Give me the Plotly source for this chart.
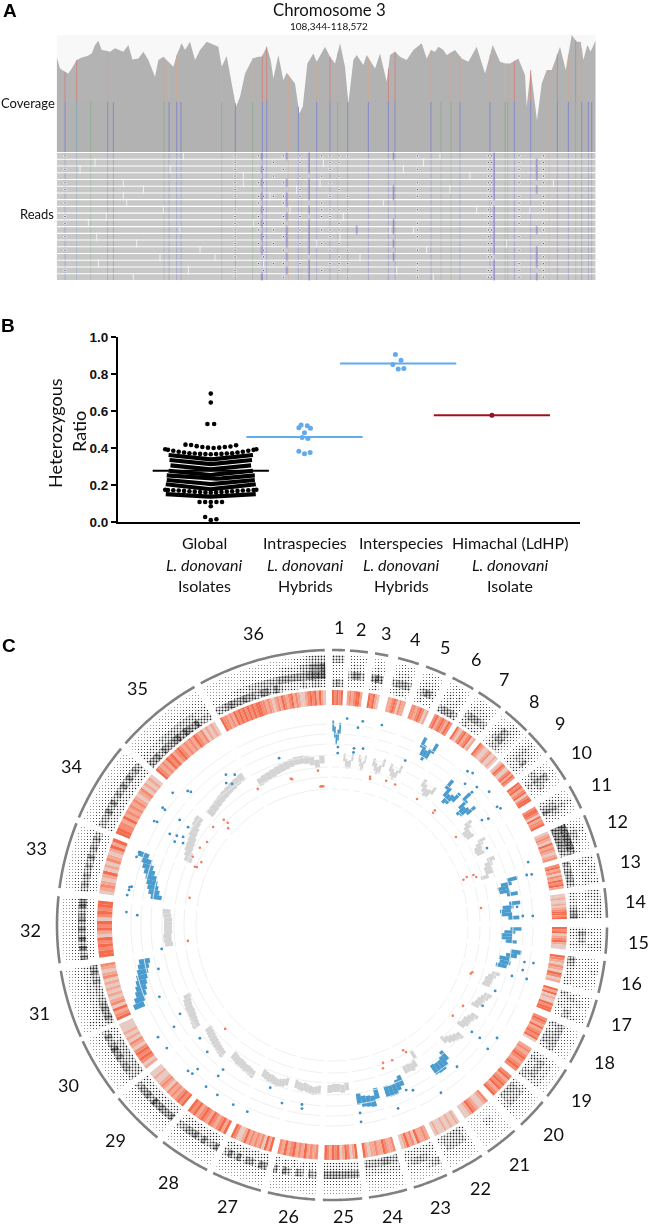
import numpy as np
import plotly.graph_objects as go

W, H = 650, 1230
UI = "Lato"

# ---------- Panel A values ----------
COV_BIN = [0,10,25,35,45,60,75,92,105,115,125,135,148,160,175,185,200,215,227,245,260,275,295,305,320,335,350,360,375,385,400,415,430,450,470,485,495,510,525,538,550,565,588,605,615,630,642,650,665,680,690,715,728,738,752,770,780,805,820,835,850,865,875,890,900,920,930,955,970,990,1000,1015,1030,1050,1070,1095,1110,1123,1135,1145,1160,1170,1195,1215,1235,1260,1285,1308,1330,1345,1360,1385,1405,1410,1422,1441,1455,1470,1485,1510,1527,1545,1560,1572,1580,1592,1602,1617]
COV_DEPTH = [285,250,240,235,250,275,283,287,295,320,333,305,303,300,310,305,300,320,277,280,300,275,225,275,285,270,255,290,325,305,330,275,305,330,320,315,255,287,205,135,165,235,280,285,285,315,275,220,290,215,237,205,115,135,265,295,270,315,285,265,325,255,145,275,290,260,290,250,295,210,290,300,285,275,305,325,280,305,300,315,305,290,305,280,270,315,235,320,270,265,265,280,230,135,245,95,205,245,245,315,245,350,330,330,275,320,300,335]
SNP_BIN = [25,60,102,153,170,322,337,360,373,495,536,588,617,630,695,725,735,780,820,843,873,935,995,1015,1123,1153,1183,1210,1300,1345,1353,1373,1422,1477,1502,1535,1557,1575,1595,1605]
SNP_LOW = list("btgbbgbbbgbgbbobobbgbbbbbggbbggbbobbgbbb")
SNP_HIGH = list("rrnonoponpoprrooporonorronoooporrororonn"[:40])
SNP_COLOR = {"b": "#7478CF", "t": "#6FA6B5", "g": "#82AE82", "r": "#D9756E", "o": "#D6A58B", "p": "#C9B3A8", "n": "#B4B4B4"}
READ_ROWS = list(range(1, 20))
BLACK_MARKS = {
    25:   "#.#.##.#.##.#.#..#.",
    535:  "#######.########.##",
    605:  "#...#.##.###.#..#..",
    620:  "..#.#.#.#.#.#.##.#.",
    650:  ".#.#..#....#.#..#..",
    680:  "#.#.#.##.##.#.#.#.#",
    730:  "##.#.##..#.#.#..#..",
    795:  "#..#...###.#.#...#.",
    820:  "###.#.#.##.##.#.#..",
    847:  "##.#.#..#.##.#.###.",
    873:  "#.....#.#.....#.#.#",
    1082: "#.#.###.#.###.#.###",
    1295: "#######.########.##",
    1305: "#####.##.#.#.#.#.##",
    1387: "#####.#####.#.#.###",
    1460: "#####.###.##.#.####",
}
PURPLE_MARKS = {
    615:  "#.#.#.#.#.#.#.#...#",
    690:  "#...#.##.#.###.#.#.",
    757:  "###.###.#.#####.###",
    900:  "...........#.......",
    1010: "#....##...##.#.#...",
    1312: "#######.#######.###",
    1440: ".###.#.....#..###.#",
}
BREAK_ROW = [1,1,2,2,3,3,3,4,4,5,5,5,6,6,6,7,7,8,8,9,9,9,10,10,11,11,12,12,13,13,14,14,14,15,15,16,16,17,17,18,18,19,19,2,5,9,12,16]
BREAK_BIN = [380,1150,115,1100,70,340,1040,560,1240,200,790,1490,260,720,1180,200,640,210,980,320,700,1260,150,860,95,590,370,1070,120,850,240,780,1350,430,1110,310,910,125,620,395,1020,230,1130,800,560,1420,1000,475]

# ---------- Panel B values ----------
GROUP_LABELS = [["Global", "L. donovani", "Isolates"], ["Intraspecies", "L. donovani", "Hybrids"],
                ["Interspecies", "L. donovani", "Hybrids"], ["Himachal (LdHP)", "L. donovani", "Isolate"]]
GROUP_MEANS = [0.277, 0.46, 0.857, 0.577]
MEAN_COLORS = ["#000000", "#62AAEC", "#62AAEC", "#A01020"]
INTRA_OFF = [-.06,-.036,.03,.064,0,-.025,.036,-.06,0,.06]
INTRA_Y = [.51,.524,.52,.507,.482,.457,.452,.383,.369,.376]
INTER_OFF = [-.03,.03,-.057,0,.06]
INTER_Y = [.905,.874,.852,.827,.83]
HIM_Y = [.577]
GLOBAL_OUT_OFF = [0,0,-.036,.036,-.27,-.21,-.15,-.09,-.03,.03,.09,.15,.21,.27,-.12,-.06,0,.06,.12,0,-.06,0,.06]
GLOBAL_OUT_Y = [.694,.646,.53,.53,.418,.416,.41,.405,.402,.40,.402,.405,.408,.415,.108,.108,.108,.108,.108,.085,.027,.010,.015]
ROW_OFF_SCALE = [0,.125,.25,.375,.5,.625,.75,.875,1]
SOLID_ROW_HALF = [.45,.44,.43,.45,.47,.47,.48,.48]
SOLID_ROWS = [
    [.339,.341,.344,.347,.350,.353,.356,.359,.362],
    [.313,.316,.318,.321,.324,.327,.329,.332,.335],
    [.285,.288,.290,.293,.295,.298,.300,.303,.306],
    [.254,.257,.260,.263,.265,.268,.271,.274,.277],
    [.231,.234,.236,.239,.241,.244,.247,.250,.252],
    [.205,.208,.211,.213,.216,.219,.222,.225,.227],
    [.177,.180,.184,.187,.191,.194,.197,.201,.204],
    [.137,.139,.141,.143,.144,.146,.148,.150,.151],
]
DOT_ROW_OFF = [0,.057,.114,.171,.228,.285,.342,.40,.457,.486]
DOT_ROW_A = [.366,.367,.368,.370,.372,.376,.380,.385,.390,.393]
DOT_ROW_B = [.158,.160,.162,.164,.166,.168,.170,.172,.173,.174]

# ---------- Panel C values ----------
CHROM = [str(i) for i in range(1, 37)]
LABEL_R = [298,297,297,298,300,302,300,301,304,304,304,304,305,304,307,305,306,305,305,305,304,302,302,297,291,294,300,305,305,308,306,302,305,305,306,302]
CH_START = [0,3.75,9,13.9,20,26,32.2,39.1,45.7,52.5,59.7,66.5,74.9,82.3,90.5,97.5,105.8,113.5,121.7,130,138.4,147,155.3,164.2,173.7,183.5,195,207,219.4,232.3,246,262,277.7,293,311.3,331.5]
CH_END = [2.7,7.5,11.8,18.4,24.4,30.9,37.8,45,51.2,58.1,64.9,73.6,81,88.5,96,104.3,111.8,120,128.5,136.6,145.5,154,162.7,172.3,181.9,193.5,205.6,217.9,230.9,245,260.4,276,291.7,309.9,330,358.5]
# SNP density, outer row to inner row, digits 0-9
DENSITY = [
 ["454","222","222","464"],["2222","2332","4774","2222"],["121","232","686","231"],["12221","23332","46665","23332"],
 ["12221","23332","35763","23222"],["12221","23232","23332","56664"],["122221","233332","466654","343332"],["112332","236532","246632","134431"],
 ["123221","234332","234462","233331"],["112211","236521","456542","234321"],["11321","23432","35642","35732"],["1232211","2354322","8888886","7777765"],
 ["323323","332333","222222","656665"],["333333","332332","222233","333467"],["222332","232232","364532","333232"],["223221","222222","222222","653333"],
 ["222122","233223","343354","433322"],["112111","222222","555554","434553"],["111111","233333","355553","343344"],["111111","222222","344443","355542"],
 ["1111111","1112111","1133111","1111111"],["1111111","2222222","2444442","3444443"],["1111111","5432222","2345543","3333333"],["11111111","22222222","33333333","55665555"],
 ["11111111","22222222","66666666","33333333"],["1111111111","2222212222","5615625726","2323232323"],["1111111111","2222222222","6736637474","3333333333"],["1111111111","1222222222","7547476654","2333333332"],
 ["11111111111","22222222222","76676857665","33333333333"],["111111111111","222222222222","446657686574","444444444333"],["1111111111111","2322222222222","3333333333333","5767654446576"],["1111111111111","2222222222222","7585857576587","2222222222222"],
 ["1111111111111","2222222222222","4656464746564","2222222222222"],["111111111111111","222222222222222","555757465757565","333333333333333"],["11111111111111111","22222222222222222","33333444444444333","66757667868768554"],
 ["111111111111111111223444","111111122222222333345778","222223334445556666667888","556766766577474333343443"],
]
DENSITY_LEVEL = [0,.06,.12,.19,.27,.37,.47,.59,.71,.85]
# Variant-density stripes per chromosome, digits 0 (pale) to 3 (deep)
STRIPES = ["32323","1212331","32310","112320211","22123201","231232132","3102312301","32100120010","01320023132","3231230233","2332031223","012103121012","23120213231","0010010123323",
 "3230123100","32102103201","31301003233","23213123230","1212321232","2312323123","2100123100","0100100100010","12113021310","2112311211013","3102310323123","21213121321312","3130212121310023","313212312321323",
 "32321212012100100","10232320120101000","3213021010101021012","33232301323023233","01210130102101313","332213121212101201010","32121323123212121321201010","3221213232323232332212101213212312100123231310"]
# Inner-track median per chromosome (radial track units), clockwise across the chromosome
TRACK_CLASS = list("bgggg" + "bgbbgggbbbbggggbgbbggggggbgbggg")
TRACK_R = [
 [199,193,186,190,197],[168,163,161,162,169],[169,165,161,163,169],[168,164,161,163,170],[168,164,161,164,170],
 [204,197,193,196,204],[169,165,162,163,168],[183,176,170,172,178],[186,178,172,174,180],[170,167,163,163,164],
 [172,168,165,164,165],[172,168,166,166,160],[186,179,175,176,183],[184,177,174,175,182],[184,178,175,175,180],
 [186,182,176,177,174],[171,168,166,166,165],[171,169,167,166,164],[169,167,165,165,163],[169,167,165,163,160],
 [172,176,178,178,177],[153,161,163,162,162],[170,173,176,176,175],[174,181,180,179,176],[162,164,163,163,164],
 [165,166,167,166,165,164,165,164,163],[163,165,166,167,166,165,165,164,163],[169,168,167,167,166,165,165,164,163],[169,168,167,166,165,164,163,162,161],[169,168,167,166,165,165,164,163,161],
 [209,206,203,201,199,197,195,193,191],[164,165,165,164,164,164,164,165,166],[178,181,183,185,187,190,193,196,201],[158,160,162,163,164,166,167,169,170],[165,166,167,168,169,170,171,172,173],[160,161,162,163,164,165,166,167,168,168,167,165,162,166],
]
BLUE_OUT = [(4.2,207),(8.6,206),(14,206),(7.5,199),(24,180),(1.9,178),(1.9,172),(7.1,178),(7.1,174),(10,179),(342.4,175),(41.4,205),(42.8,207),(43.3,194),(46.4,200),(46.5,193),(49.7,206),(54.4,203),(55.3,205),(55,183),(55.8,189),(63.6,173),(72.2,206),(75.8,206),(75.6,201),(87.4,201),(87.3,191),(84.4,186),(100.9,196),(100.7,205),(103.3,196),(105.5,202),(105.8,187),(112,176),(118.2,171),(127.4,176),(127.4,186),(124.4,200),(128.5,199),(138.6,189),(147,200),(153.9,184),(155.8,181),(160.2,195),(171.5,190),(171.6,199),(189.5,182),(189.3,186),(195.7,185),(204.4,205),(208.8,205),(214,205),(217.9,205),(217,189),(217,181),(223,197),(224.6,205),(223.2,204),(224.5,178),(229.4,174),(233.3,206),(237.2,207),(237.2,188),(239.7,176),(200.8,174),(255.8,179),(247.4,187),(262,172),(324.8,184),(327.1,179),(323.3,177),(324.7,173),(309.7,207),(312.9,197),(313.3,194),(304.7,206),(304.6,203),(304.6,185),(300.3,206),(300.5,203),(299.3,186),(299.9,179),(300.6,173),(297.9,178),(298.8,170),(304.2,174),(290.7,206),(289.2,207),(280.6,206),(280.8,204),(279.8,206),(278.3,207),(273.6,206),(272.9,195)]
RED_OUT = [(355.2,139),(355.6,139),(356,139),(356.4,139),(344.7,151),(354.8,155),(14.4,153),(14.6,151),(20.6,154),(24.2,154),(34,152),(41.9,154),(42,151),(54.6,152),(71,139),(70.4,143),(70.5,150),(71.6,152),(83.5,150),(108.6,148),(109.3,147),(121.7,154),(126.9,151),(150.4,144),(149.8,147),(159.7,147),(156,148),(160.4,152),(225.8,149),(280.8,145),(263.7,145),(314.2,151),(314.4,146),(313,142),(331.4,155),(344.3,152),(303.6,150),(300.3,153),(296.1,155),(295.7,145),(293,149),(293.2,147),(309.5,154)]
GRID_R = [136,148,158,170,181,191,201]
COVER_COLORS = {"0": "#E6C9C1", "1": "#F4A894", "2": "#F58B72", "3": "#F46C4D"}


def px(x): return x / W
def py(y): return 1 - y / H

fig = go.Figure()

# ---- Panel A coverage
top = np.interp(SNP_BIN, COV_BIN, COV_DEPTH)
fig.add_trace(go.Scatter(x=COV_BIN, y=COV_DEPTH, mode="lines", fill="tozeroy", fillcolor="#B3B3B3", line=dict(width=0), hoverinfo="skip", xaxis="x", yaxis="y"))
for code, col in SNP_COLOR.items():
    xs, ys = [], []
    for b, l, h, t in zip(SNP_BIN, SNP_LOW, SNP_HIGH, top):
        split = min(150, t)
        if l == code:
            xs += [b, b, None]; ys += [0, split, None]
        if h == code:
            xs += [b, b, None]; ys += [split, t, None]
    if xs:
        fig.add_trace(go.Scatter(x=xs, y=ys, mode="lines", opacity=0.7, line=dict(color=col, width=1), hoverinfo="skip", xaxis="x", yaxis="y"))

# ---- Panel A reads
fig.add_trace(go.Bar(y=READ_ROWS, x=[COV_BIN[-1]] * len(READ_ROWS), orientation="h", marker=dict(color="#C9C9C9", line=dict(width=0)), width=0.84, hoverinfo="skip", xaxis="x2", yaxis="y2"))
for code, col in SNP_COLOR.items():
    xs, ys = [], []
    for b, l in zip(SNP_BIN, SNP_LOW):
        if l == code:
            for r in READ_ROWS:
                xs += [b, b, None]; ys += [r - .42, r + .42, None]
    if xs:
        fig.add_trace(go.Scatter(x=xs, y=ys, mode="lines", opacity=0.4, line=dict(color=col, width=1), hoverinfo="skip", xaxis="x2", yaxis="y2"))
fig.add_trace(go.Scatter(x=BREAK_BIN, y=BREAK_ROW, mode="markers", opacity=0.7, marker=dict(symbol="line-ns", size=6, line=dict(color="white", width=1)), hoverinfo="skip", xaxis="x2", yaxis="y2"))
bx, by = [], []
for b, s in BLACK_MARKS.items():
    for r, ch in zip(READ_ROWS, s):
        if ch == "#":
            bx.append(b); by.append(r)
fig.add_trace(go.Scatter(x=bx, y=by, mode="markers", marker=dict(symbol="square", size=2, color="#333", line=dict(color="white", width=0.8)), hoverinfo="skip", xaxis="x2", yaxis="y2"))
bx, by = [], []
for b, s in PURPLE_MARKS.items():
    for r, ch in zip(READ_ROWS, s):
        if ch == "#":
            bx.append(b); by.append(r)
fig.add_trace(go.Scatter(x=bx, y=by, mode="markers", opacity=0.65, marker=dict(symbol="line-ns", size=6, line=dict(color="#6A50C8", width=1.2)), hoverinfo="skip", xaxis="x2", yaxis="y2"))

# ---- Panel B
for row, half in zip(SOLID_ROWS, SOLID_ROW_HALF):
    xs = [1 - s * half for s in ROW_OFF_SCALE[::-1]] + [1 + s * half for s in ROW_OFF_SCALE[1:]]
    ys = row[::-1] + row[1:]
    fig.add_trace(go.Scatter(x=xs, y=ys, mode="lines", line=dict(color="black", width=4.2), hoverinfo="skip", xaxis="x3", yaxis="y3"))
for row in (DOT_ROW_A, DOT_ROW_B):
    xs = [1 - o for o in DOT_ROW_OFF[::-1]] + [1 + o for o in DOT_ROW_OFF[1:]]
    ys = row[::-1] + row[1:]
    fig.add_trace(go.Scatter(x=xs, y=ys, mode="markers", marker=dict(color="black", size=4.6), hoverinfo="skip", xaxis="x3", yaxis="y3"))
fig.add_trace(go.Scatter(x=[1 + o for o in GLOBAL_OUT_OFF], y=GLOBAL_OUT_Y, mode="markers", marker=dict(color="black", size=4.6), cliponaxis=False, hoverinfo="skip", xaxis="x3", yaxis="y3"))
fig.add_trace(go.Scatter(x=[2 + o for o in INTRA_OFF], y=INTRA_Y, mode="markers", marker=dict(color="#62AAEC", size=5), hoverinfo="skip", xaxis="x3", yaxis="y3"))
fig.add_trace(go.Scatter(x=[3 + o for o in INTER_OFF], y=INTER_Y, mode="markers", marker=dict(color="#62AAEC", size=5), hoverinfo="skip", xaxis="x3", yaxis="y3"))
fig.add_trace(go.Scatter(x=[4], y=HIM_Y, mode="markers", marker=dict(color="#8A0F1C", size=5), hoverinfo="skip", xaxis="x3", yaxis="y3"))
for i, (m, c) in enumerate(zip(GROUP_MEANS, MEAN_COLORS)):
    fig.add_trace(go.Scatter(x=[i + 1 - .62, i + 1 + .62], y=[m, m], mode="lines", line=dict(color=c, width=2), hoverinfo="skip", xaxis="x3", yaxis="y3"))

# ---- Panel C: outer arcs
arc_t, arc_r = [], []
for s, e in zip(CH_START, CH_END):
    arc_t += list(np.linspace(s, e, 24)) + [None]
    arc_r += [275] * 24 + [None]
fig.add_trace(go.Scatterpolar(theta=arc_t, r=arc_r, mode="lines", line=dict(color="#808080", width=2.6), hoverinfo="skip"))

# density track
RING_EDGES = [270, 262, 254, 246, 238]
t_all, w_all, r_all, b_all, sol = [], [], [], [], []
for s, e, rows in zip(CH_START, CH_END, DENSITY):
    for ri, row in enumerate(rows):
        n = len(row)
        w = (e - s) / n
        for k, ch in enumerate(row):
            t_all.append(s + (k + .5) * w); w_all.append(w)
            b_all.append(RING_EDGES[ri + 1]); r_all.append(RING_EDGES[ri] - RING_EDGES[ri + 1])
            sol.append(DENSITY_LEVEL[int(ch)])
fig.add_trace(go.Barpolar(theta=t_all, width=w_all, r=r_all, base=b_all,
                          marker=dict(color="white", line=dict(width=0),
                                      pattern=dict(shape=".", size=3, solidity=sol, fgcolor="#222222", bgcolor="white", fillmode="replace")),
                          hoverinfo="skip"))

# stripe track
t_all, w_all, c_all = [], [], []
for s, e, st in zip(CH_START, CH_END, STRIPES):
    w = (e - s) / len(st)
    for k, ch in enumerate(st):
        t_all.append(s + (k + .5) * w); w_all.append(w * 1.03); c_all.append(COVER_COLORS[ch])
fig.add_trace(go.Barpolar(theta=t_all, width=w_all, r=[15] * len(t_all), base=[220] * len(t_all), marker=dict(color=c_all, line=dict(width=0)), hoverinfo="skip"))

# grid arcs
gt, gr = [], []
for g in GRID_R:
    for s, e in zip(CH_START, CH_END):
        gt += list(np.linspace(s, e, 8)) + [None]
        gr += [g] * 8 + [None]
fig.add_trace(go.Scatterpolar(theta=gt, r=gr, mode="lines", line=dict(color="#EDEDED", width=0.9), hoverinfo="skip"))

# inner track, one block per sample
for code, col, half in (("g", "#D4D4D4", 4), ("b", "#4A9CCF", 5.5)):
    tt, ww, bb = [], [], []
    for s, e, c, vals in zip(CH_START, CH_END, TRACK_CLASS, TRACK_R):
        if c == code:
            w = (e - s) * 0.92 / len(vals)
            for k, v in enumerate(vals):
                tt.append(s + (e - s) * 0.04 + (k + .5) * w); ww.append(w * 1.02); bb.append(v - half)
    fig.add_trace(go.Barpolar(theta=tt, width=ww, r=[2 * half] * len(tt), base=bb, marker=dict(color=col, line=dict(width=0)), hoverinfo="skip"))
fig.add_trace(go.Scatterpolar(theta=[p[0] for p in BLUE_OUT], r=[p[1] for p in BLUE_OUT], mode="markers", marker=dict(color="#3F8EC4", size=2.8), hoverinfo="skip"))
fig.add_trace(go.Scatterpolar(theta=[p[0] for p in RED_OUT], r=[p[1] for p in RED_OUT], mode="markers", marker=dict(color="#F0805F", size=2.6), hoverinfo="skip"))

R_PX = 285
CX, CY = 332, 925
anns = []
def note(x, y, text, size, bold=False, italic=False, family=UI, color="#111", angle=0):
    t = text
    if italic: t = f"<i>{t}</i>"
    if bold: t = f"<b>{t}</b>"
    anns.append(dict(x=px(x), y=py(y), xref="paper", yref="paper", text=t, showarrow=False, xanchor="center", yanchor="middle",
                     font=dict(family=family, size=size, color=color), textangle=angle))
note(10, 11, "A", 19, bold=True, family="Liberation Sans", color="black")
note(8, 326, "B", 19, bold=True, family="Liberation Sans", color="black")
note(9, 645, "C", 19, bold=True, family="Liberation Sans", color="black")
note(329, 9, "Chromosome 3", 16.8)
note(329, 26, "108,344-118,572", 10)
note(28, 103, "Coverage", 13)
note(37, 214, "Reads", 13)
note(55, 433, "Heterozygous", 18, angle=-90)
note(79, 432, "Ratio", 18, angle=-90)
LABEL_X = [204, 305, 401, 510]
for cx, lines in zip(LABEL_X, GROUP_LABELS):
    note(cx, 543, lines[0], 16)
    note(cx, 564, lines[1], 16, italic=True)
    note(cx, 585, lines[2], 16)

# chromosome labels sit outside the radial range, so they are page annotations
for name, s, e, lr in zip(CHROM, CH_START, CH_END, LABEL_R):
    a = np.radians((s + e) / 2)
    note(CX + lr * np.sin(a), CY - lr * np.cos(a), name, 18)

fig.update_layout(
    width=W, height=H, autosize=False, margin=dict(l=0, r=0, t=0, b=0), showlegend=False,
    paper_bgcolor="white", plot_bgcolor="white", barmode="overlay", annotations=anns,
    xaxis=dict(domain=[px(56.7), px(595.7)], range=[0, 1617], visible=False, anchor="y", automargin=False),
    yaxis=dict(domain=[py(152), py(35)], range=[0, 350], visible=False, anchor="x", automargin=False),
    xaxis2=dict(domain=[px(56.7), px(595.7)], range=[0, 1617], visible=False, anchor="y2", automargin=False),
    yaxis2=dict(domain=[py(280.5), py(152.5)], range=[19.5, 0.5], visible=False, anchor="x2", automargin=False),
    xaxis3=dict(domain=[px(118), px(580)], range=[0.01, 4.94], anchor="y3", showgrid=False, zeroline=False, showticklabels=False, automargin=False,
                ticks="", showline=True, linecolor="black", linewidth=2),
    yaxis3=dict(domain=[py(522), py(337)], range=[0, 1], anchor="x3", showgrid=False, zeroline=False, tickvals=[0, .2, .4, .6, .8, 1], tickformat=".1f", automargin=False,
                ticks="outside", ticklen=5, tickwidth=2, tickcolor="black", showline=True, linecolor="black", linewidth=2,
                tickfont=dict(family="Liberation Sans", size=13.5, color="#111", weight="bold")),
    polar=dict(domain=dict(x=[px(CX - R_PX), px(CX + R_PX)], y=[py(CY + R_PX), py(CY - R_PX)]),
               bgcolor="rgba(0,0,0,0)", barmode="overlay",
               radialaxis=dict(range=[0, R_PX], visible=False),
               angularaxis=dict(rotation=90, direction="clockwise", visible=False, thetaunit="degrees")),
    shapes=[dict(type="rect", xref="x", yref="y", x0=0, x1=1617, y0=0, y1=350, fillcolor="#F8F8F8", line=dict(width=0), layer="below")],
)
fig.write_html("out.html", config={"displayModeBar": False}, post_script="document.body.style.margin='0';")
